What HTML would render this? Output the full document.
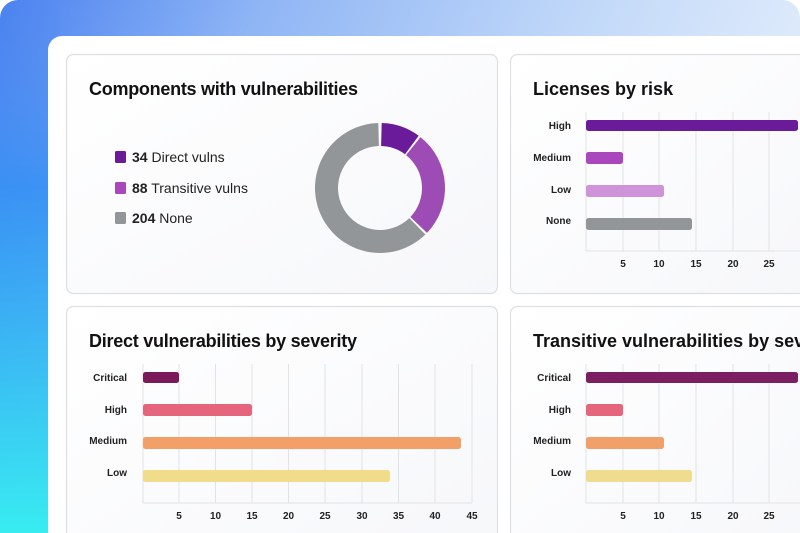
<!DOCTYPE html>
<html><head><meta charset="utf-8"><style>
html,body{margin:0;padding:0;width:800px;height:533px;overflow:hidden;background:#fff;}
svg{display:block;font-family:"Liberation Sans",sans-serif;}
</style></head><body>
<svg width="800" height="533" viewBox="0 0 800 533" xmlns="http://www.w3.org/2000/svg">
<defs>
<linearGradient id="bg" x1="0" y1="0" x2="1" y2="0.3">
<stop offset="0" stop-color="#4a82f0"/><stop offset="0.3" stop-color="#8fb5f5"/><stop offset="0.7" stop-color="#c4daf9"/><stop offset="1" stop-color="#e4eefc"/>
</linearGradient>
<linearGradient id="bgl" x1="0" y1="0" x2="0" y2="1">
<stop offset="0" stop-color="#4a86f0" stop-opacity="0"/><stop offset="0.35" stop-color="#3090f5" stop-opacity="0.8"/><stop offset="1" stop-color="#38ecf2"/>
</linearGradient>
<linearGradient id="card" x1="0" y1="0" x2="1" y2="1">
<stop offset="0" stop-color="#ffffff"/><stop offset="1" stop-color="#f6f7fa"/>
</linearGradient>
</defs>
<path d="M18 0 H782 A18 18 0 0 1 800 18 V533 H0 V18 A18 18 0 0 1 18 0 Z" fill="url(#bg)"/>
<path d="M18 0 H60 V533 H0 V18 A18 18 0 0 1 18 0 Z" fill="url(#bgl)"/>
<rect x="48" y="36" width="780" height="520" rx="14" fill="#ffffff"/>
<g stroke="#dedfe2" stroke-width="1.2" fill="url(#card)">
<rect x="66.5" y="54.5" width="431" height="239" rx="7"/>
<rect x="510.5" y="54.5" width="320" height="239" rx="7"/>
<rect x="66.5" y="306.5" width="431" height="250" rx="7"/>
<rect x="510.5" y="306.5" width="320" height="250" rx="7"/>
</g>
<g font-size="18" font-weight="bold" fill="#111">
<text x="89" y="95" textLength="269">Components with vulnerabilities</text>
<text x="533" y="95">Licenses by risk</text>
<text x="89" y="347" textLength="268">Direct vulnerabilities by severity</text>
<text x="533" y="347">Transitive vulnerabilities by severity</text>
</g>
<rect x="115" y="151" width="11" height="12" rx="1.5" fill="#6a1b9a"/>
<rect x="115" y="182" width="11" height="12" rx="1.5" fill="#ab47bc"/>
<rect x="115" y="212" width="11" height="12" rx="1.5" fill="#939699"/>
<g font-size="14" fill="#222">
<text x="132" y="162"><tspan font-weight="bold">34</tspan> Direct vulns</text>
<text x="132" y="193"><tspan font-weight="bold">88</tspan> Transitive vulns</text>
<text x="132" y="223"><tspan font-weight="bold">204</tspan> None</text>
</g>
<path d="M381.7 123 A65 65 0 0 1 418.7 135.7 L405 154.2 A42 42 0 0 0 381.1 146 Z" fill="#6a1b9a"/>
<path d="M420.5 137.1 A65 65 0 0 1 427 232.9 L410.4 217 A42 42 0 0 0 406.1 155.1 Z" fill="#9e4cb5"/>
<path d="M425.4 234.5 A65 65 0 1 1 378.3 123 L378.9 146 A42 42 0 1 0 409.3 218.1 Z" fill="#939699"/>
<g stroke="#e2e3e6" stroke-width="1">
<line x1="586" y1="112" x2="586" y2="251"/><line x1="623" y1="112" x2="623" y2="251"/><line x1="659" y1="112" x2="659" y2="251"/><line x1="696" y1="112" x2="696" y2="251"/><line x1="733" y1="112" x2="733" y2="251"/><line x1="769" y1="112" x2="769" y2="251"/>
<line x1="586" y1="251" x2="800" y2="251"/>
</g>
<g font-size="10" font-weight="bold" fill="#222" text-anchor="end">
<text x="571" y="129">High</text><text x="571" y="161">Medium</text><text x="571" y="193">Low</text><text x="571" y="224">None</text>
</g>
<rect x="586" y="120" width="212" height="11" rx="2.5" fill="#6a1b9a"/>
<rect x="586" y="152" width="37" height="12" rx="2.5" fill="#ab47bc"/>
<rect x="586" y="185" width="78" height="12" rx="2.5" fill="#ce93d8"/>
<rect x="586" y="218" width="106" height="12" rx="2.5" fill="#939699"/>
<g font-size="10" font-weight="bold" fill="#222" text-anchor="middle">
<text x="623" y="267">5</text><text x="659" y="267">10</text><text x="696" y="267">15</text><text x="733" y="267">20</text><text x="769" y="267">25</text>
</g>
<g stroke="#e2e3e6" stroke-width="1">
<line x1="143" y1="364" x2="143" y2="503"/><line x1="179" y1="364" x2="179" y2="503"/><line x1="215.5" y1="364" x2="215.5" y2="503"/><line x1="252" y1="364" x2="252" y2="503"/><line x1="288.5" y1="364" x2="288.5" y2="503"/><line x1="325" y1="364" x2="325" y2="503"/><line x1="362" y1="364" x2="362" y2="503"/><line x1="398.5" y1="364" x2="398.5" y2="503"/><line x1="435" y1="364" x2="435" y2="503"/><line x1="472" y1="364" x2="472" y2="503"/>
<line x1="143" y1="503" x2="472" y2="503"/>
</g>
<g font-size="10" font-weight="bold" fill="#222" text-anchor="end">
<text x="127" y="381">Critical</text><text x="127" y="413">High</text><text x="127" y="444">Medium</text><text x="127" y="476">Low</text>
</g>
<rect x="143" y="372" width="36" height="11" rx="2.5" fill="#7b1a5a"/>
<rect x="143" y="404" width="109" height="12" rx="2.5" fill="#e4657c"/>
<rect x="143" y="437" width="318" height="12" rx="2.5" fill="#f2a067"/>
<rect x="143" y="470" width="247" height="12" rx="2.5" fill="#f1dc8c"/>
<g font-size="10" font-weight="bold" fill="#222" text-anchor="middle">
<text x="179" y="519">5</text><text x="215.5" y="519">10</text><text x="252" y="519">15</text><text x="288.5" y="519">20</text><text x="325" y="519">25</text><text x="362" y="519">30</text><text x="398.5" y="519">35</text><text x="435" y="519">40</text><text x="472" y="519">45</text>
</g>
<g stroke="#e2e3e6" stroke-width="1">
<line x1="586" y1="364" x2="586" y2="503"/><line x1="623" y1="364" x2="623" y2="503"/><line x1="659" y1="364" x2="659" y2="503"/><line x1="696" y1="364" x2="696" y2="503"/><line x1="733" y1="364" x2="733" y2="503"/><line x1="769" y1="364" x2="769" y2="503"/>
<line x1="586" y1="503" x2="800" y2="503"/>
</g>
<g font-size="10" font-weight="bold" fill="#222" text-anchor="end">
<text x="571" y="381">Critical</text><text x="571" y="413">High</text><text x="571" y="444">Medium</text><text x="571" y="476">Low</text>
</g>
<rect x="586" y="372" width="212" height="11" rx="2.5" fill="#7b1f62"/>
<rect x="586" y="404" width="37" height="12" rx="2.5" fill="#e4657c"/>
<rect x="586" y="437" width="78" height="12" rx="2.5" fill="#f0a068"/>
<rect x="586" y="470" width="106" height="12" rx="2.5" fill="#efdc8e"/>
<g font-size="10" font-weight="bold" fill="#222" text-anchor="middle">
<text x="623" y="519">5</text><text x="659" y="519">10</text><text x="696" y="519">15</text><text x="733" y="519">20</text><text x="769" y="519">25</text>
</g>
</svg>
</body></html>
